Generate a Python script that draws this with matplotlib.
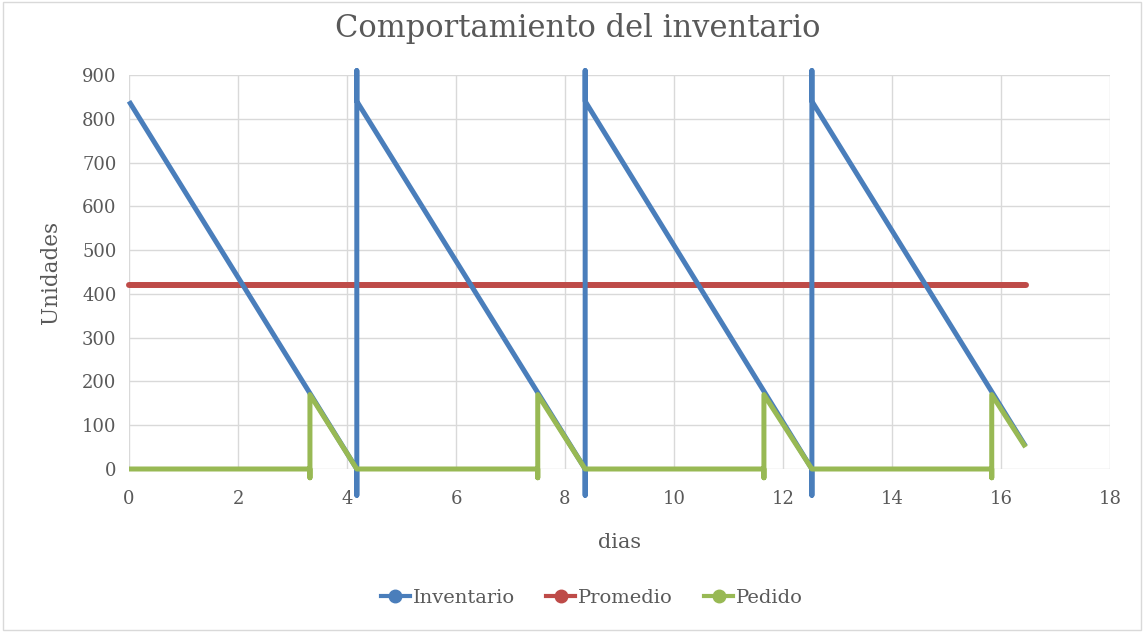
import matplotlib
matplotlib.use("Agg")
import matplotlib.pyplot as plt
from matplotlib.lines import Line2D
import numpy as np

# Data
inv_x = [0, 4.18, 4.18, 4.18, 4.18, 8.37, 8.37, 8.37, 8.37, 12.53, 12.53, 12.53, 12.53, 16.45]
inv_y = [840, 0, -60, 910, 840, 0, -60, 910, 840, 0, -60, 910, 840, 52]

prom_x = [0, 16.45]
prom_y = [420, 420]

ped_x = [0, 3.32, 3.32, 3.32, 4.18, 7.50, 7.50, 7.50, 8.37, 11.65, 11.65, 11.65, 12.53, 15.83, 15.83, 15.83, 16.45]
ped_y = [0, 0, -20, 170, 0, 0, -20, 170, 0, 0, -20, 170, 0, 0, -20, 170, 50]

xticks = [0, 2, 4, 6, 8, 10, 12, 14, 16, 18]
yticks = [0, 100, 200, 300, 400, 500, 600, 700, 800, 900]

BLUE = "#4a7ebb"
RED = "#be4b48"
GREEN = "#98b954"
TXT = "#595959"
GRID = "#d9d9d9"

plt.rcParams['font.family'] = ['DejaVu Serif']

W, H = 1144, 632
fig = plt.figure(figsize=(W/100, H/100), dpi=100)
ax = fig.add_axes([129/W, 1 - 469/H, (1110-129)/W, (469-75)/H])

ax.plot(inv_x, inv_y, color=BLUE, lw=3.6, clip_on=False, zorder=3, solid_capstyle='butt')
ax.plot(prom_x, prom_y, color=RED, lw=4.3, clip_on=False, zorder=2, solid_capstyle='round')
ax.plot(ped_x, ped_y, color=GREEN, lw=3.6, clip_on=False, zorder=4, solid_capstyle='butt')

ax.set_xlim(0, 18)
ax.set_ylim(0, 900)
ax.set_xticks(xticks)
ax.set_yticks(yticks)
ax.grid(True, color=GRID, lw=1)
ax.set_axisbelow(True)
for s in ax.spines.values():
    s.set_visible(False)
ax.tick_params(length=0, labelsize=13, colors=TXT)
ax.tick_params(axis='y', pad=9)
ax.tick_params(axis='x', pad=15)

fig.text(578/W, 1 - 28/H, "Comportamiento del inventario", fontsize=22, color=TXT,
         ha='center', va='center')
ax.set_xlabel("dias", fontsize=15, color=TXT)
ax.xaxis.set_label_coords(0.5, (469-543)/394)
ax.xaxis.label.set_va('center')
ax.set_ylabel("Unidades", fontsize=15.5, color=TXT)
ax.yaxis.set_label_coords((51-129)/981, (469-272)/394)
ax.yaxis.label.set_va('center')

handles = [
    Line2D([], [], color=BLUE, lw=3, marker='o', markersize=9),
    Line2D([], [], color=RED, lw=3, marker='o', markersize=9),
    Line2D([], [], color=GREEN, lw=3, marker='o', markersize=9),
]
leg = fig.legend(handles, ["Inventario", "Promedio", "Pedido"], loc='center',
                 bbox_to_anchor=(592/W, 1 - 598/H), ncol=3, frameon=False,
                 fontsize=14, handlelength=1.5, handletextpad=0.15, columnspacing=1.6)
for t in leg.get_texts():
    t.set_color(TXT)

# chart area border
fig.patches.append(plt.Rectangle((0.003, 0.003), 0.994, 0.994, transform=fig.transFigure,
                                 fill=False, edgecolor="#d9d9d9", lw=1))

fig.savefig("out.png", dpi=100)
